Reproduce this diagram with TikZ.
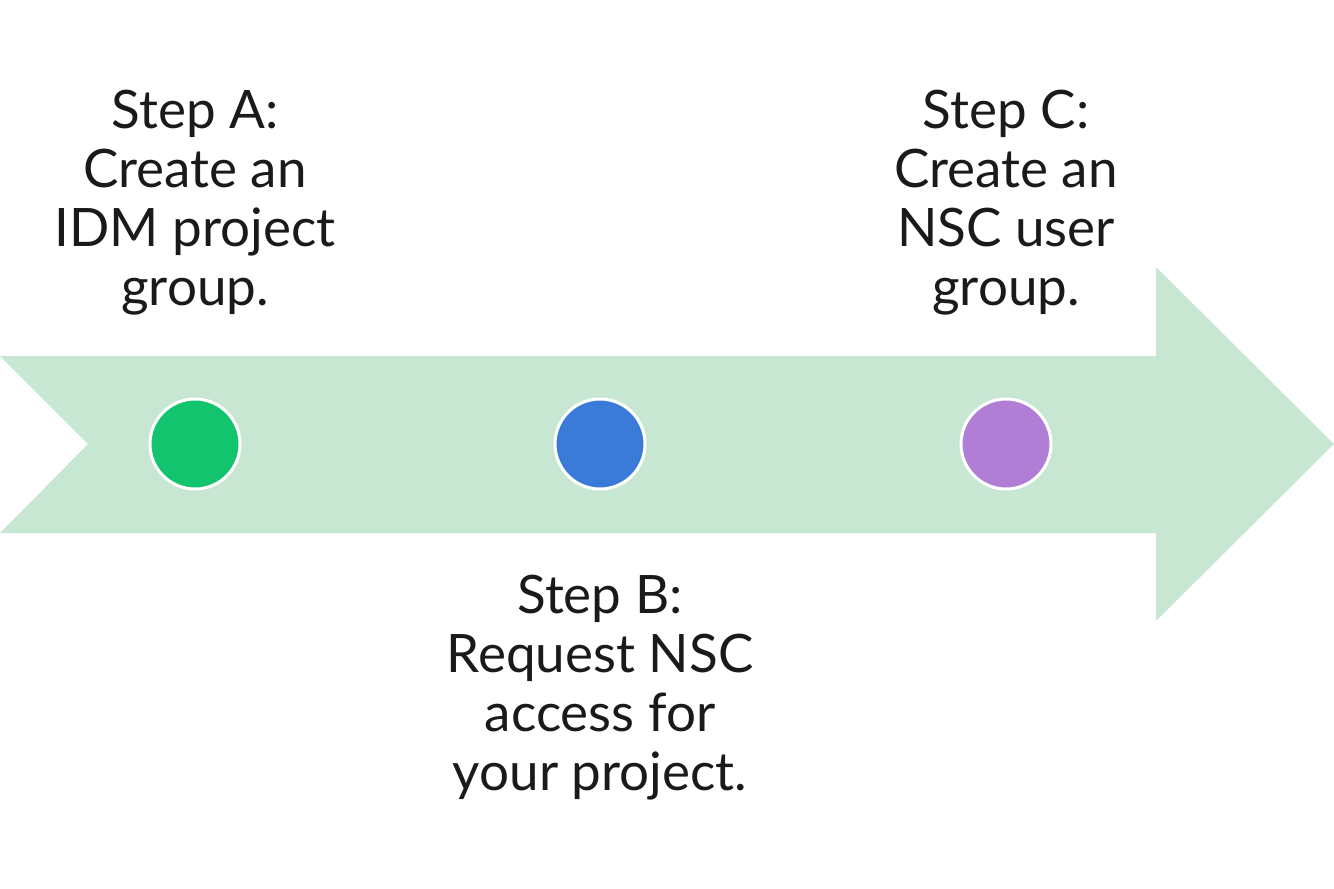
\documentclass[tikz,border=0pt]{standalone}
\usepackage{fontspec}
\setmainfont{Lato}
\definecolor{band}{HTML}{C8E7D3}
\definecolor{cgreen}{HTML}{12C46E}
\definecolor{cblue}{HTML}{3A7BD9}
\definecolor{cpurple}{HTML}{B07ED4}
\definecolor{ink}{HTML}{1A1A1A}
\begin{document}
\begin{tikzpicture}[x=1pt,y=-1pt,
  dot/.style={circle,draw=white,line width=3pt,minimum size=90pt,inner sep=0pt},
  lbl/.style={anchor=base,text=ink,font=\fontsize{53}{59}\selectfont,inner sep=0pt}]
\useasboundingbox (0,0) rectangle (1334,889);
\fill[band] (0,356) -- (1156,356) -- (1156,267) -- (1334,444) -- (1156,621) -- (1156,533) -- (0,533) -- (88,444) -- cycle;
\node[dot,fill=cgreen] (a) at (195,444) {};
\node[dot,fill=cblue] (b) at (600,444) {};
\node[dot,fill=cpurple] (c) at (1006,444) {};
\node[lbl] (a1) at (195,128) {Step A:};
\node[lbl] (a2) at (195,187) {Create an};
\node[lbl] (a3) at (195,246) {IDM project};
\node[lbl] (a4) at (195,305) {group.};
\node[lbl] (c1) at (1006,128) {Step C:};
\node[lbl] (c2) at (1006,187) {Create an};
\node[lbl] (c3) at (1006,246) {NSC user};
\node[lbl] (c4) at (1006,305) {group.};
\node[lbl] (b1) at (600,613) {Step B:};
\node[lbl] (b2) at (600,672) {Request NSC};
\node[lbl] (b3) at (600,731) {access for};
\node[lbl] (b4) at (600,790) {your project.};
\end{tikzpicture}
\end{document}
